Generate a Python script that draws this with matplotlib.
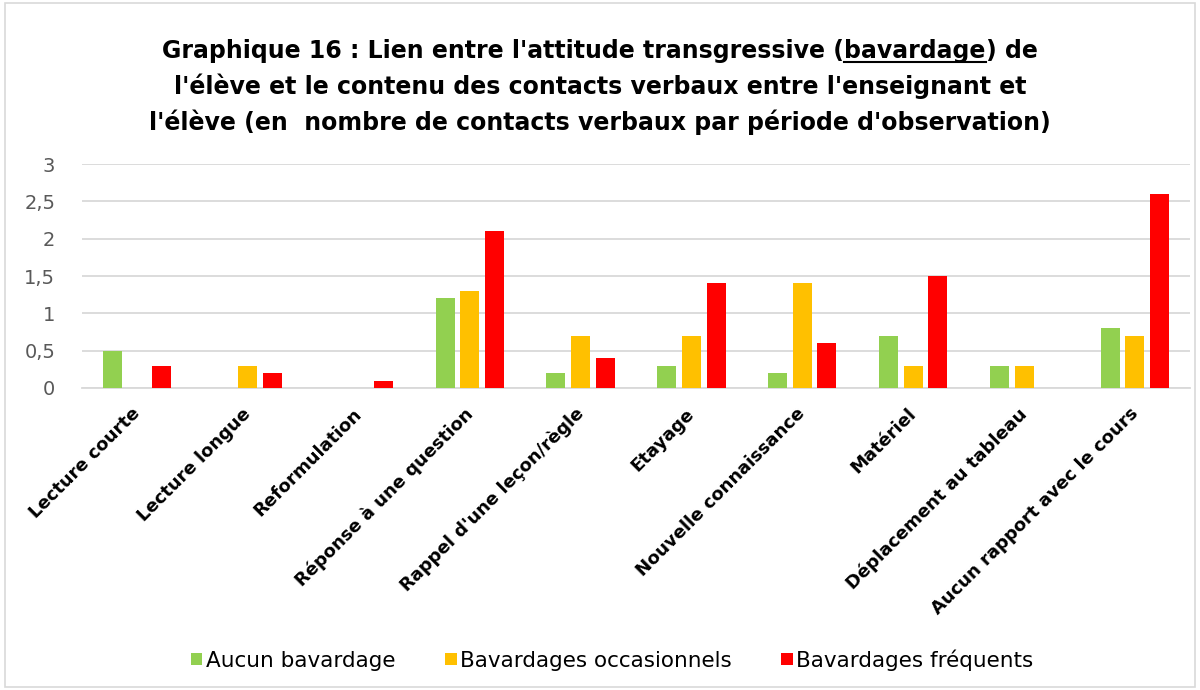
import numpy as np
import matplotlib
matplotlib.use("Agg")
import matplotlib.pyplot as plt
from matplotlib.patches import Rectangle
from matplotlib.lines import Line2D
from matplotlib.transforms import ScaledTranslation

plt.rcParams['font.family'] = 'DejaVu Sans'

categories = ["Lecture courte", "Lecture longue", "Reformulation",
              "Réponse à une question", "Rappel d'une leçon/règle", "Etayage",
              "Nouvelle connaissance", "Matériel", "Déplacement au tableau",
              "Aucun rapport avec le cours"]
aucun = [0.5, 0, 0, 1.2, 0.2, 0.3, 0.2, 0.7, 0.3, 0.8]
occasionnels = [0, 0.3, 0, 1.3, 0.7, 0.7, 1.4, 0.3, 0.3, 0.7]
frequents = [0.3, 0.2, 0.1, 2.1, 0.4, 1.4, 0.6, 1.5, 0, 2.6]
series_names = ["Aucun bavardage", "Bavardages occasionnels", "Bavardages fréquents"]
colors = ["#92D050", "#FFC000", "#FF0000"]
yticks = [0, 0.5, 1, 1.5, 2, 2.5, 3]
ytick_labels = ["0", "0,5", "1", "1,5", "2", "2,5", "3"]

fig = plt.figure(figsize=(12, 6.9), dpi=100)
ax = fig.add_axes([0.068, 0.4377, 0.924, 0.3246])

x = np.arange(len(categories))
w = 0.172
off = 0.222
for i, (vals, name, c) in enumerate(zip([aucun, occasionnels, frequents], series_names, colors)):
    ax.bar(x + (i - 1) * off, vals, width=w, color=c, label=name, zorder=3)

ax.set_xlim(-0.5, len(categories) - 0.5)
ax.set_ylim(0, 3)
ax.set_yticks(yticks)
ax.set_yticklabels(ytick_labels, fontsize=14, color="#595959")
ax.yaxis.grid(True, color="#D9D9D9", lw=1.3, zorder=0)
ax.tick_params(axis='y', length=0, pad=19)
ax.tick_params(axis='x', length=0)
for s in ["top", "right", "left"]:
    ax.spines[s].set_visible(False)
ax.spines["bottom"].set_color("#D9D9D9")
ax.spines["bottom"].set_linewidth(1.3)

ax.set_xticks(x)
ax.set_xticklabels(categories, rotation=45, ha='right', va='top', rotation_mode='anchor',
                   fontsize=13, fontweight='bold')
ax.tick_params(axis='x', pad=12)
shift = ScaledTranslation(-6 / 100, 0, fig.dpi_scale_trans)
for lbl in ax.get_xticklabels():
    lbl.set_transform(lbl.get_transform() + shift)

# title, with "bavardage" underlined
fig.canvas.draw()
r = fig.canvas.get_renderer()
tfs = 17
parts = ["Graphique 16 : Lien entre l'attitude transgressive (", "bavardage", ") de"]
widths = []
for p in parts:
    t = fig.text(0, 0, p, fontsize=tfs, fontweight='bold')
    widths.append(t.get_window_extent(r).width / fig.bbox.width)
    t.remove()
x0 = 0.5 - sum(widths) / 2
base1 = 0.916
xs = x0
for p, wd in zip(parts, widths):
    fig.text(xs, base1, p, fontsize=tfs, fontweight='bold', va='baseline', ha='left')
    xs += wd
ux0 = x0 + widths[0]
fig.add_artist(Line2D([ux0, ux0 + widths[1]], [base1 - 0.006, base1 - 0.006],
                      color='black', lw=1.5, transform=fig.transFigure))
fig.text(0.5, 0.864, "l'élève et le contenu des contacts verbaux entre l'enseignant et",
         fontsize=tfs, fontweight='bold', va='baseline', ha='center')
fig.text(0.5, 0.812, "l'élève (en  nombre de contacts verbaux par période d'observation)",
         fontsize=tfs, fontweight='bold', va='baseline', ha='center')

fig.legend(loc='lower center', bbox_to_anchor=(0.51, 0.0), ncol=3, frameon=False,
           fontsize=15.5, handlelength=0.55, handleheight=0.55, handletextpad=0.15,
           columnspacing=2.3)

fig.add_artist(Rectangle((0.004, 0.004), 0.992, 0.992, transform=fig.transFigure,
                         fill=False, edgecolor="#D9D9D9", lw=1.2))

fig.savefig("out.png", dpi=100)
